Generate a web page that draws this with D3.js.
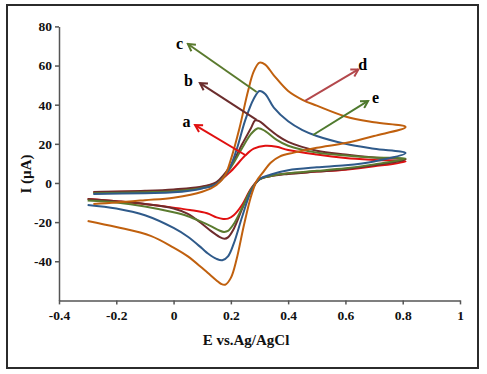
<!DOCTYPE html>
<html>
<head>
<meta charset="utf-8">
<script src="https://cdn.jsdelivr.net/npm/d3@7"></script>
<style>
  body { margin: 0; background: #fff; }
  text { font-family: "Liberation Serif", "Times New Roman", serif; font-weight: bold; }
</style>
</head>
<body>
<svg id="chart" width="487" height="374"></svg>
<script>
// cyclic voltammograms: forward scan then reverse scan, [E, I]
var redForward = [[-0.28,-4.8],[-0.1,-4.3],[0,-3.8],[0.1,-2],[0.15,0],[0.2,6],[0.25,14],[0.28,17.5],[0.32,19],[0.36,18.5],[0.4,16.8],[0.5,14.5],[0.6,12.8],[0.7,11.8],[0.81,11]];
var redReverse = [[0.81,11],[0.7,8.5],[0.6,6.8],[0.5,5.8],[0.4,4.8],[0.34,3.6],[0.3,2],[0.27,-3],[0.24,-11],[0.21,-16.5],[0.19,-18.2],[0.173,-18.4],[0.15,-17.6],[0.117,-15.5],[0.057,-13.8],[0,-12.6],[-0.1,-10.8],[-0.2,-9.3],[-0.3,-8.2]];
var maroonForward = [[-0.28,-4.6],[-0.1,-4],[0,-3.3],[0.1,-1.8],[0.15,0.5],[0.2,9],[0.24,20],[0.27,28],[0.285,32],[0.3,31.5],[0.33,28],[0.36,24.5],[0.4,21],[0.5,16.5],[0.6,14.5],[0.7,13],[0.81,12]];
var maroonReverse = [[0.81,12],[0.7,9],[0.6,7],[0.5,5.8],[0.4,4.6],[0.34,3.5],[0.3,1.8],[0.27,-3.5],[0.24,-13],[0.21,-23.5],[0.19,-27.8],[0.178,-28.5],[0.16,-27.5],[0.13,-24.5],[0.1,-21],[0.05,-15.8],[0,-13],[-0.1,-10.7],[-0.2,-9.3],[-0.3,-8.2]];
var blueForward = [[-0.28,-5.6],[-0.1,-5.2],[0,-4.8],[0.1,-2.8],[0.15,-0.5],[0.19,6],[0.22,17],[0.25,32],[0.28,43],[0.3,47],[0.32,45.5],[0.35,38.5],[0.4,31.5],[0.45,27],[0.5,24],[0.6,20],[0.7,17.5],[0.81,15.3]];
var blueReverse = [[0.81,15.3],[0.7,11],[0.6,9],[0.5,8],[0.4,6.5],[0.34,4.3],[0.3,2],[0.27,-4.5],[0.24,-17],[0.21,-31],[0.19,-37.5],[0.17,-39.5],[0.15,-38.8],[0.12,-36],[0.1,-33.5],[0.05,-27.5],[0,-23],[-0.1,-16.5],[-0.2,-13],[-0.3,-11.2]];
var greenForward = [[-0.28,-5.2],[-0.1,-4.7],[0,-4.2],[0.1,-2.5],[0.15,-0.5],[0.2,8],[0.24,18],[0.27,25],[0.295,28],[0.32,26.5],[0.36,22],[0.4,19],[0.5,15.5],[0.6,14],[0.7,13],[0.81,12.5]];
var greenReverse = [[0.81,12.5],[0.7,9.5],[0.6,7.5],[0.5,6.2],[0.4,5],[0.34,3.6],[0.3,1.8],[0.27,-3.5],[0.24,-12.5],[0.21,-21],[0.19,-24.5],[0.176,-25],[0.16,-24.3],[0.13,-22],[0.1,-20],[0.05,-17],[0,-15],[-0.1,-12],[-0.2,-10],[-0.3,-9]];
var orangeForward = [[-0.28,-10.7],[-0.2,-10],[-0.1,-8.8],[0,-7.5],[0.1,-4.5],[0.15,-1],[0.18,4],[0.2,12],[0.23,28],[0.26,47],[0.28,57],[0.3,61.5],[0.32,60.5],[0.35,55],[0.4,47],[0.45,42.5],[0.5,39.5],[0.6,34],[0.7,31],[0.81,28.6]];
var orangeReverse = [[0.81,28.6],[0.7,24],[0.6,20.4],[0.5,18],[0.42,15.5],[0.37,13.5],[0.34,10.5],[0.31,5],[0.29,1],[0.27,-7],[0.245,-22],[0.22,-39],[0.2,-48.5],[0.18,-52],[0.165,-51.5],[0.15,-49.8],[0.12,-46],[0.1,-43.5],[0.05,-37.5],[0,-33],[-0.08,-27],[-0.2,-22.5],[-0.3,-19.4]];

var xTicks = [-0.4, -0.2, 0, 0.2, 0.4, 0.6, 0.8, 1];
var yTicks = [-40, -20, 0, 20, 40, 60, 80];

// arrows pointing at curves: from [E,I] to [E,I], label placed at [E,I]
var arrowLabels = ["a", "b", "c", "d", "e"];
var arrowFrom = [[0.25,14.3],[0.29,32.2],[0.29,46.5],[0.459,41.9],[0.487,24.5]];
var arrowTo = [[0.075,29.6],[0.092,51],[0.05,71],[0.645,58],[0.679,41.9]];
var labelAt = [[0.045,31.3],[0.052,52.4],[0.021,71.2],[0.66,60.8],[0.705,43.9]];

var svg = d3.select("#chart");

var x = d3.scaleLinear().domain([-0.4, 1]).range([59, 460]);
var y = d3.scaleLinear().domain([-60, 80]).range([300.4, 26.4]);

// outer frame
svg.append("rect")
  .attr("x", 7).attr("y", 5)
  .attr("width", 471).attr("height", 363)
  .style("fill", "none")
  .style("stroke", "#2b2b2b")
  .style("stroke-width", 2);

var fmt = (d) => (d === 0 ? "0" : String(+d.toFixed(1)));

var xAxis = svg.append("g")
  .attr("transform", "translate(0," + y(-60) + ")")
  .call(d3.axisBottom(x).tickValues(xTicks).tickFormat(fmt).tickSize(4).tickSizeOuter(0));
var yAxis = svg.append("g")
  .attr("transform", "translate(" + x(-0.4) + ",0)")
  .call(d3.axisLeft(y).tickValues(yTicks).tickFormat(fmt).tickSize(4).tickSizeOuter(0));

[xAxis, yAxis].forEach((g) => {
  g.selectAll("path, line").style("stroke", "#555").style("stroke-width", 1.5);
  g.selectAll("text").style("font-size", "13.5px").style("fill", "#111");
});
xAxis.selectAll("text").attr("dy", "0.9em");
yAxis.selectAll("text").attr("x", -7);

// curves
var series = [
  { color: "#e01010", pts: redForward.concat(redReverse.slice(1)) },
  { color: "#6e2c2c", pts: maroonForward.concat(maroonReverse.slice(1)) },
  { color: "#5b7b2f", pts: greenForward.concat(greenReverse.slice(1)) },
  { color: "#2f5a8a", pts: blueForward.concat(blueReverse.slice(1)) },
  { color: "#c0600e", pts: orangeForward.concat(orangeReverse.slice(1)) },
];

var line = d3.line()
  .x((d) => x(d[0]))
  .y((d) => y(d[1]))
  .curve(d3.curveCatmullRom.alpha(0.5));

svg.append("g")
  .selectAll("path")
  .data(series)
  .enter()
  .append("path")
  .attr("d", (d) => line(d.pts))
  .style("fill", "none")
  .style("stroke", (d) => d.color)
  .style("stroke-width", 2)
  .style("stroke-linejoin", "round");

// arrows
var arrowColors = ["#e01010", "#6b2d2d", "#5a7a2e", "#b3484c", "#4f7a2e"];
var defs = svg.append("defs");
arrowColors.forEach((c, i) => {
  defs.append("marker")
    .attr("id", "head" + i)
    .attr("viewBox", "0 0 10 10")
    .attr("refX", 8).attr("refY", 5)
    .attr("markerWidth", 5).attr("markerHeight", 5)
    .attr("orient", "auto")
    .append("path")
    .attr("d", "M1,1 L8,5 L1,9")
    .style("fill", "none")
    .style("stroke", c)
    .style("stroke-width", 2);
});

svg.append("g")
  .selectAll("line")
  .data(arrowLabels)
  .enter()
  .append("line")
  .attr("x1", (d, i) => x(arrowFrom[i][0]))
  .attr("y1", (d, i) => y(arrowFrom[i][1]))
  .attr("x2", (d, i) => x(arrowTo[i][0]))
  .attr("y2", (d, i) => y(arrowTo[i][1]))
  .style("stroke", (d, i) => arrowColors[i])
  .style("stroke-width", 2)
  .attr("marker-end", (d, i) => "url(#head" + i + ")");

svg.append("g")
  .selectAll("text")
  .data(arrowLabels)
  .enter()
  .append("text")
  .text((d) => d)
  .attr("x", (d, i) => x(labelAt[i][0]))
  .attr("y", (d, i) => y(labelAt[i][1]))
  .attr("dy", "0.35em")
  .style("text-anchor", "middle")
  .style("font-size", "16px")
  .style("fill", "#000");

// axis titles
svg.append("text")
  .text("E vs.Ag/AgCl")
  .attr("x", 246).attr("y", 345)
  .style("text-anchor", "middle")
  .style("font-size", "15px")
  .style("fill", "#111");

svg.append("text")
  .text("I (µA)")
  .attr("transform", "translate(31,174) rotate(-90)")
  .style("text-anchor", "middle")
  .style("font-size", "15px")
  .style("fill", "#111");
</script>
</body>
</html>
